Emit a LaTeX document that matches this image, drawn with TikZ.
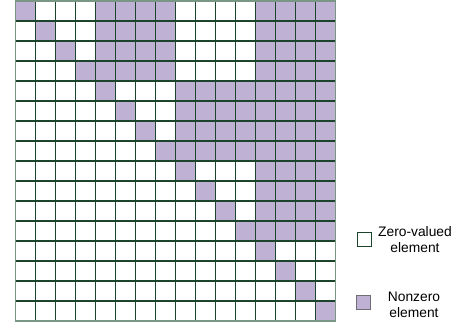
\documentclass[tikz,border=0pt]{standalone}
\usepackage{fontspec}
\setmainfont{Liberation Sans}
\usetikzlibrary{positioning}
\definecolor{GridGreen}{HTML}{1C442C}
\definecolor{EdgeGreen}{HTML}{7A9684}
\definecolor{Lilac}{HTML}{BFB1D4}
\definecolor{BoxGray}{HTML}{6E6E74}
\tikzset{
  gridline/.style={draw=GridGreen, line width=1.2pt},
  gridedge/.style={draw=EdgeGreen, line width=1.6pt},
  nonzero/.style={fill=Lilac},
  keybox/.style={draw=GridGreen, line width=0.8pt, minimum size=14pt, inner sep=0pt},
  keytext/.style={align=center, font=\fontsize{13.8}{16}\selectfont, inner sep=0pt}
}
\begin{document}
\begin{tikzpicture}[x=1pt,y=-1pt]
    \useasboundingbox (0,0) rectangle (460,330);
    % matrix cells
    \begin{scope}[shift={(15.5pt,-1pt)},x=20pt,y=-20pt]
      \foreach \bi/\bj in {0/1,0/3,1/2,1/3,2/3}
        \fill[nonzero] (4*\bj,4*\bi) rectangle (4*\bj+4,4*\bi+4);
      \foreach \k in {0,...,15}
        \fill[nonzero] (\k,\k) rectangle (\k+1,\k+1);
      \foreach \k in {1,...,15} {
        \draw[gridline] (\k,0) -- (\k,16);
        \draw[gridline] (0,\k) -- (16,\k);
      }
      \draw[gridedge] (0,0) rectangle (16,16);
    \end{scope}
    % legend
    \node[keybox, fill=white] (zerobox) at (364,239.5) {};
    \node[keytext] (zerotext) at (415,240) {Zero-valued\\element};
    \node[keybox, draw=BoxGray, nonzero] (nzbox) at (363.5,302.5) {};
    \node[keytext] (nztext) at (414,305) {Nonzero\\element};
\end{tikzpicture}
\end{document}
